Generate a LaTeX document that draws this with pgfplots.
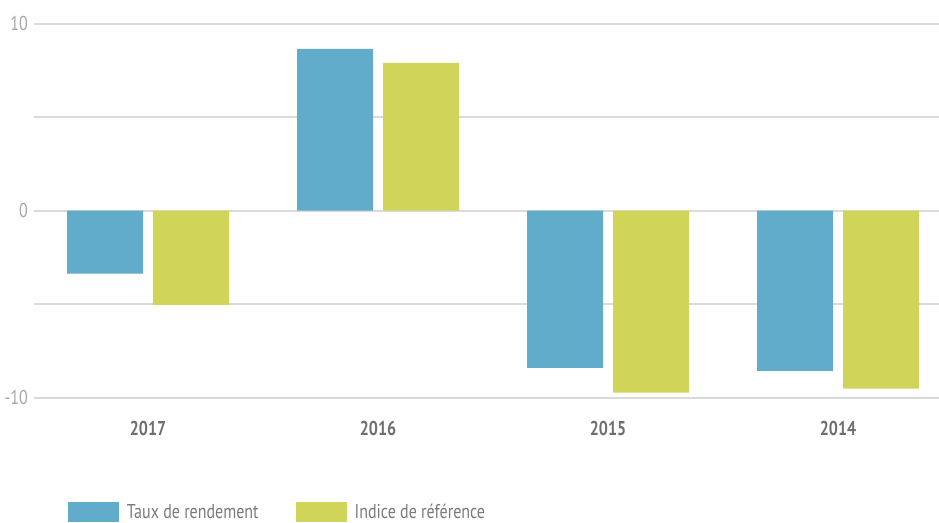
\documentclass[border=0pt]{standalone}
\usepackage{pgfplots}
\pgfplotsset{compat=1.18}
\usepackage{fontspec}
\setmainfont{PT Sans}[FakeStretch=0.8]
\definecolor{barblue}{HTML}{61ABCB}
\definecolor{bargreen}{HTML}{D0D55A}
\definecolor{gridgray}{HTML}{DADADA}
\definecolor{ticklight}{HTML}{A6A6A6}
\definecolor{tickdark}{HTML}{6E6E6E}
\definecolor{legendgray}{HTML}{7A7A7A}
\begin{document}
\begin{tikzpicture}
\path[use as bounding box] (-34pt,-124.3pt) rectangle (905pt,397.7pt);
\begin{axis}[
  at={(0pt,0pt)}, anchor=south west,
  scale only axis, width=905pt, height=374pt,
  xmin=-0.4957, xmax=3.4391, ymin=-10, ymax=10,
  axis line style={draw=none},
  major tick length=0pt, tick style={draw=none},
  ybar, bar width=76pt,
  xtick={0,1,2,3}, xticklabels={2017,2016,2015,2014},
  ytick={-10,-5,0,5,10}, yticklabels={-10,,0,,10},
  ymajorgrids, grid style={gridgray, line width=2pt},
  /pgf/number format/assume math mode=true,
  xticklabel style={anchor=base, yshift=-38pt, inner sep=0pt, font=\fontsize{20}{24}\selectfont\bfseries, text=tickdark},
  yticklabel style={anchor=east, inner sep=0pt, xshift=-6pt, font=\fontsize{20}{24}\selectfont, text=ticklight},
  legend columns=2,
  legend image code/.code={\fill[#1] (0pt,-10pt) rectangle (51pt,10pt);},
  legend style={at={(0.03757,-0.2790)}, anchor=north west, draw=none, fill=none,
    inner sep=0pt, outer sep=0pt, font=\fontsize{20}{24}\selectfont, text=legendgray,
    nodes={inner sep=0pt},
    /tikz/every odd column/.append style={column sep=8pt},
    /tikz/every even column/.append style={column sep=37pt}},
]
\addplot[fill=barblue, draw=none, bar shift=-43pt] coordinates {(0,-3.37) (1,8.65) (2,-8.40) (3,-8.56)};
\addlegendentry{Taux de rendement}
\addplot[fill=bargreen, draw=none, bar shift=43pt] coordinates {(0,-5.03) (1,7.90) (2,-9.73) (3,-9.52)};
\addlegendentry{Indice de référence}
\end{axis}
\end{tikzpicture}
\end{document}
